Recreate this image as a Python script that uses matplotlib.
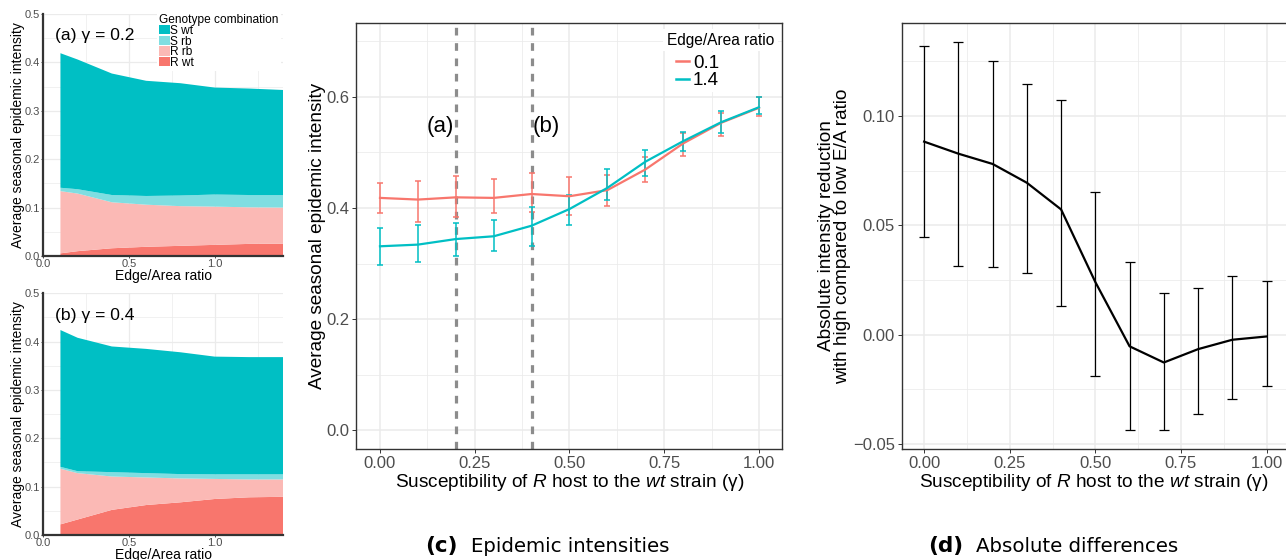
import matplotlib
matplotlib.use("Agg")
import matplotlib.pyplot as plt
from matplotlib.patches import Patch
from matplotlib.lines import Line2D
import numpy as np

plt.rcParams['font.family'] = ['Liberation Sans', 'DejaVu Sans']
plt.rcParams['mathtext.fontset'] = 'custom'
plt.rcParams['mathtext.rm'] = 'Liberation Sans'
plt.rcParams['mathtext.it'] = 'Liberation Sans:italic'

# ---------------- data ----------------
edge_area = [0.1, 0.2, 0.4, 0.6, 0.8, 1.0, 1.2, 1.4]
genotypes = ["S wt", "S rb", "R rb", "R wt"]

# panel (a) gamma = 0.2 (stacked components)
a_R_wt = [0.0055, 0.010, 0.016, 0.019, 0.021, 0.023, 0.025, 0.0255]
a_R_rb = [0.1285, 0.119, 0.095, 0.087, 0.082, 0.079, 0.0756, 0.0745]
a_S_rb = [0.007, 0.009, 0.015, 0.018, 0.022, 0.025, 0.0254, 0.026]
a_S_wt = [0.278, 0.268, 0.251, 0.238, 0.232, 0.221, 0.220, 0.217]

# panel (b) gamma = 0.4
b_R_wt = [0.022, 0.032, 0.052, 0.062, 0.0676, 0.0745, 0.078, 0.079]
b_R_rb = [0.115, 0.096, 0.069, 0.057, 0.0494, 0.0415, 0.037, 0.036]
b_S_rb = [0.004, 0.004, 0.009, 0.009, 0.009, 0.0095, 0.0105, 0.0105]
b_S_wt = [0.283, 0.276, 0.260, 0.257, 0.252, 0.2435, 0.2425, 0.2425]

# panel (c)
gamma = [0.0, 0.1, 0.2, 0.3, 0.4, 0.5, 0.6, 0.7, 0.8, 0.9, 1.0]
c_low = [0.418, 0.415, 0.419, 0.418, 0.425, 0.421, 0.432, 0.469, 0.516, 0.553, 0.580]
c_low_hi = [0.445, 0.448, 0.458, 0.452, 0.463, 0.455, 0.460, 0.492, 0.535, 0.571, 0.599]
c_low_lo = [0.390, 0.375, 0.383, 0.390, 0.393, 0.387, 0.403, 0.447, 0.493, 0.530, 0.565]
c_high = [0.331, 0.334, 0.344, 0.349, 0.368, 0.398, 0.436, 0.483, 0.520, 0.554, 0.581]
c_high_hi = [0.364, 0.369, 0.373, 0.379, 0.402, 0.423, 0.470, 0.504, 0.537, 0.575, 0.600]
c_high_lo = [0.297, 0.302, 0.313, 0.322, 0.332, 0.369, 0.415, 0.457, 0.502, 0.534, 0.569]
ratio_labels = ["0.1", "1.4"]
marked_gamma = [0.2, 0.4]
marked_labels = ["(a)", "(b)"]

# panel (d)
d_diff = [0.0883, 0.0828, 0.0781, 0.0695, 0.0573, 0.0241, -0.0053, -0.0127, -0.0066, -0.0023, -0.0008]
d_hi = [0.1321, 0.1340, 0.1253, 0.1148, 0.1075, 0.0653, 0.0331, 0.0193, 0.0215, 0.0270, 0.0245]
d_lo = [0.0447, 0.0314, 0.0310, 0.0281, 0.0131, -0.0187, -0.0436, -0.0438, -0.0363, -0.0294, -0.0233]

# ---------------- styling ----------------
RED = "#F8766D"
CYAN = "#00BFC4"
fill_colors = {"S wt": "#00BFC4", "S rb": "#7FDEE1", "R rb": "#FBB9B5", "R wt": "#F8766D"}
GRID = "#EBEBEB"
TICKC = "#4D4D4D"

W, H = 1286, 560
fig = plt.figure(figsize=(W / 100, H / 100), dpi=100)


def box(l, t, r, b):
    return [l / W, 1 - b / H, (r - l) / W, (b - t) / H]


def gg_grid(ax, xmaj, xmin, ymaj, ymin, lwmaj=1.0, lwmin=0.5):
    for v in xmaj:
        ax.axvline(v, color=GRID, lw=lwmaj, zorder=0)
    for v in xmin:
        ax.axvline(v, color=GRID, lw=lwmin, zorder=0)
    for v in ymaj:
        ax.axhline(v, color=GRID, lw=lwmaj, zorder=0)
    for v in ymin:
        ax.axhline(v, color=GRID, lw=lwmin, zorder=0)


# ---------- panels (a) and (b) ----------
def area_panel(ax, comps, label, show_legend):
    R_wt, R_rb, S_rb, S_wt = comps
    ax.stackplot(edge_area, R_wt, R_rb, S_rb, S_wt,
                 colors=[fill_colors["R wt"], fill_colors["R rb"], fill_colors["S rb"], fill_colors["S wt"]],
                 lw=0, zorder=2)
    ax.set_xlim(0, 1.4)
    ax.set_ylim(0, 0.5)
    gg_grid(ax, [0, 0.5, 1.0], [0.25, 0.75, 1.25],
            np.arange(0, 0.51, 0.1), np.arange(0.05, 0.5, 0.1), 0.9, 0.5)
    for s in ["top", "right"]:
        ax.spines[s].set_visible(False)
    for s in ["left", "bottom"]:
        ax.spines[s].set_color("#333333")
        ax.spines[s].set_linewidth(1.6)
        ax.spines[s].set_zorder(5)
    ax.set_xticks([0.0, 0.5, 1.0])
    ax.set_xticklabels(["0.0", "0.5", "1.0"])
    ax.set_yticks([0.0, 0.1, 0.2, 0.3, 0.4, 0.5])
    ax.set_yticklabels(["0.0", "0.1", "0.2", "0.3", "0.4", "0.5"])
    ax.tick_params(axis="both", length=1.5, width=0.6, colors="#333333", labelcolor=TICKC,
                   labelsize=8, pad=1)
    ax.tick_params(axis="x", pad=0.8)
    ax.set_xlabel("Edge/Area ratio", fontsize=10, va="center")
    ax.xaxis.set_label_coords(0.5, -0.082)
    ax.set_ylabel("Average seasonal epidemic intensity", fontsize=10, va="center")
    ax.yaxis.set_label_coords(-0.105, 0.5)
    ax.text(0.068, 0.455, label, fontsize=12.6, ha="left", va="center", zorder=6)
    if show_legend:
        handles = [Patch(facecolor=fill_colors[g], edgecolor="none") for g in genotypes]
        leg = ax.legend(handles, genotypes, title="Genotype combination", loc="upper left",
                        bbox_to_anchor=(157 / W, 1 - 12 / H), bbox_transform=fig.transFigure,
                        fontsize=8.6, title_fontsize=8.6, handlelength=0.85, handleheight=0.8,
                        handletextpad=0.05, labelspacing=-0.12, borderpad=0.2, borderaxespad=0,
                        frameon=True, framealpha=1, facecolor="white", edgecolor="none")
        leg._legend_box.align = "left"
        leg.set_zorder(7)


ax_a = fig.add_axes(box(43.3, 14, 283.3, 256))
area_panel(ax_a, (a_R_wt, a_R_rb, a_S_rb, a_S_wt), "(a) γ = 0.2", True)
ax_b = fig.add_axes(box(43.3, 293.3, 283.3, 535))
area_panel(ax_b, (b_R_wt, b_R_rb, b_S_rb, b_S_wt), "(b) γ = 0.4", False)


def bw_frame(ax):
    for s in ax.spines.values():
        s.set_color("#333333")
        s.set_linewidth(1.0)
        s.set_zorder(6)
    ax.tick_params(axis="both", length=3.0, width=0.7, colors="#333333", labelcolor=TICKC,
                   labelsize=12, pad=2)


xmaj = [0, 0.25, 0.5, 0.75, 1.0]
xmin = [0.125, 0.375, 0.625, 0.875]
xlabel_text = r"Susceptibility of $\it{R}$ host to the $\it{wt}$ strain (γ)"

# ---------- panel (c) ----------
ax_c = fig.add_axes(box(356.3, 22.7, 782.3, 449.3))
ax_c.set_xlim(-0.0625, 1.0615)
ax_c.set_ylim(-0.034, 0.733)
gg_grid(ax_c, xmaj, xmin, [0, 0.2, 0.4, 0.6], [0.1, 0.3, 0.5, 0.7], 1.1, 0.55)
for g in marked_gamma:
    ax_c.axvline(g, color="#8C8C8C", lw=2.3, ls=(0, (2.4, 2.4)), zorder=3)
for g, lab, dx in zip(marked_gamma, marked_labels, [-0.04, 0.04]):
    ax_c.text(g + dx, 0.547, lab, fontsize=16, ha="center", va="center", zorder=4)

for mean, lo, hi, col in [(c_low, c_low_lo, c_low_hi, RED), (c_high, c_high_lo, c_high_hi, CYAN)]:
    mean = np.array(mean)
    ax_c.errorbar(gamma, mean, yerr=[mean - np.array(lo), np.array(hi) - mean], fmt="none",
                  ecolor=col, elinewidth=1.1, capsize=2.3, capthick=1.1, zorder=4)
ax_c.plot(gamma, c_low, color=RED, lw=1.6, zorder=5)
ax_c.plot(gamma, c_high, color=CYAN, lw=1.6, zorder=5)
ax_c.set_xticks(xmaj)
ax_c.set_xticklabels(["0.00", "0.25", "0.50", "0.75", "1.00"])
ax_c.set_yticks([0.0, 0.2, 0.4, 0.6])
ax_c.set_yticklabels(["0.0", "0.2", "0.4", "0.6"])
bw_frame(ax_c)
ax_c.set_xlabel(xlabel_text, fontsize=13.7, va="center")
ax_c.xaxis.set_label_coords(0.5, -0.078)
ax_c.set_ylabel("Average seasonal epidemic intensity", fontsize=13.7, va="center")
ax_c.yaxis.set_label_coords(-0.09, 0.5)

# legend for (c): title as text, entries through legend
ax_c.text(667 / W, 1 - 40 / H, "Edge/Area ratio", transform=fig.transFigure, fontsize=11.2,
          ha="left", va="center", zorder=8,
          bbox=dict(boxstyle="square,pad=0.25", facecolor="white", edgecolor="none"))
leg_handles = [Line2D([0], [0], color=RED, lw=1.8), Line2D([0], [0], color=CYAN, lw=1.8)]
leg = ax_c.legend(leg_handles, ratio_labels, loc="upper left",
                  bbox_to_anchor=(673 / W, 1 - 52 / H), bbox_transform=fig.transFigure,
                  fontsize=13.6, handlelength=0.7, handletextpad=0.2,
                  labelspacing=0.0, borderpad=0.15, borderaxespad=0, frameon=True, framealpha=1,
                  facecolor="white", edgecolor="none")
leg.set_zorder(7)

# ---------- panel (d) ----------
ax_d = fig.add_axes(box(901.7, 22.7, 1288, 449.3))
ax_d.set_xlim(-0.0655, 1.0627)
ax_d.set_ylim(-0.0524, 0.1427)
gg_grid(ax_d, xmaj, xmin, [-0.05, 0, 0.05, 0.10], [-0.025, 0.025, 0.075, 0.125], 1.1, 0.55)
dm = np.array(d_diff)
ax_d.errorbar(gamma, dm, yerr=[dm - np.array(d_lo), np.array(d_hi) - dm], fmt="none",
              ecolor="black", elinewidth=0.9, capsize=3.5, capthick=0.9, zorder=4)
ax_d.plot(gamma, d_diff, color="black", lw=1.6, zorder=5)
ax_d.set_xticks(xmaj)
ax_d.set_xticklabels(["0.00", "0.25", "0.50", "0.75", "1.00"])
ax_d.set_yticks([-0.05, 0.0, 0.05, 0.10])
ax_d.set_yticklabels(["\u22120.05", "0.00", "0.05", "0.10"])
bw_frame(ax_d)
ax_d.set_xlabel(xlabel_text, fontsize=13.7, va="center")
ax_d.xaxis.set_label_coords(0.498, -0.078)
ax_d.set_ylabel("Absolute intensity reduction\nwith high compared to low E/A ratio", fontsize=13.7,
                linespacing=0.95, va="center")
ax_d.yaxis.set_label_coords(-0.174, 0.5)

# ---------- captions ----------
for xb, xt, bold, rest in [(458, 471, "(c)", "Epidemic intensities"),
                           (963, 976, "(d)", "Absolute differences")]:
    fig.text(xb / W, 1 - 546 / H, bold, fontsize=15.5, fontweight="bold",
             family="DejaVu Sans", ha="right", va="center")
    fig.text(xt / W, 1 - 546 / H, rest, fontsize=14.2, family="DejaVu Sans", ha="left", va="center")

fig.savefig("out.png", dpi=100)
